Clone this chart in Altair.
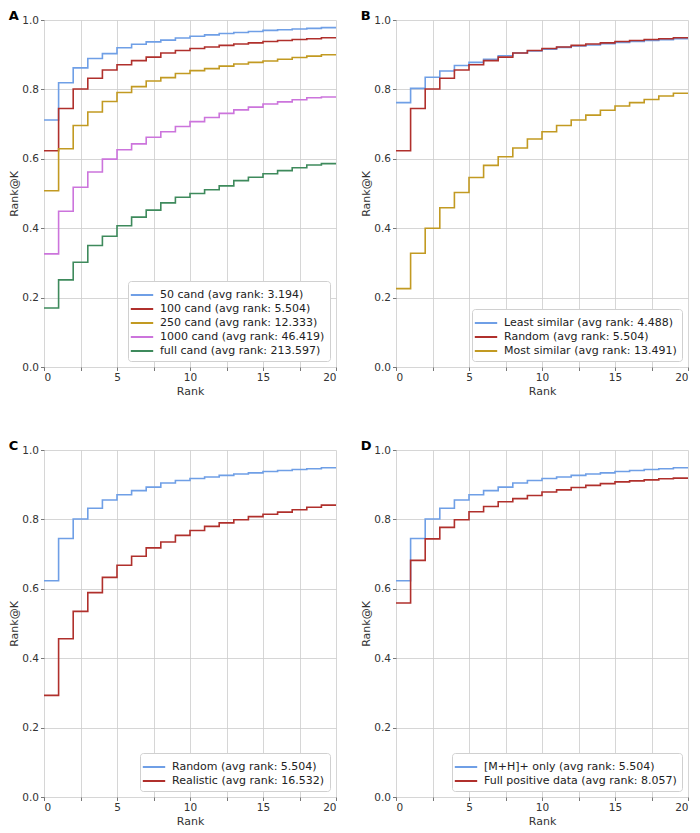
import altair as alt
import pandas as pd

# Rank positions (step starts); the last value is carried to rank 20
rank_edges = list(range(0, 21))

# Panel A
a_names = ["50 cand (avg rank: 3.194)", "100 cand (avg rank: 5.504)", "250 cand (avg rank: 12.333)",
           "1000 cand (avg rank: 46.419)", "full cand (avg rank: 213.597)"]
cand50 = [0.712, 0.819, 0.862, 0.889, 0.903, 0.920, 0.930, 0.937, 0.942, 0.948,
          0.953, 0.957, 0.961, 0.964, 0.967, 0.970, 0.972, 0.974, 0.976, 0.978]
random_ = [0.623, 0.745, 0.801, 0.832, 0.856, 0.871, 0.883, 0.893, 0.905, 0.912,
           0.918, 0.922, 0.927, 0.931, 0.934, 0.938, 0.941, 0.944, 0.946, 0.949]
cand250 = [0.508, 0.629, 0.696, 0.735, 0.765, 0.791, 0.808, 0.824, 0.834, 0.846,
           0.854, 0.860, 0.867, 0.873, 0.878, 0.882, 0.887, 0.892, 0.896, 0.900]
cand1000 = [0.326, 0.449, 0.518, 0.562, 0.599, 0.626, 0.643, 0.662, 0.678, 0.693,
            0.707, 0.719, 0.731, 0.741, 0.749, 0.758, 0.764, 0.770, 0.776, 0.778]
candfull = [0.170, 0.251, 0.302, 0.350, 0.377, 0.407, 0.432, 0.452, 0.473, 0.489,
            0.500, 0.511, 0.522, 0.537, 0.547, 0.557, 0.566, 0.574, 0.582, 0.586]

# Panel B
b_names = ["Least similar (avg rank: 4.488)", "Random (avg rank: 5.504)", "Most similar (avg rank: 13.491)"]
least_sim = [0.762, 0.803, 0.835, 0.853, 0.869, 0.878, 0.887, 0.897, 0.905, 0.911,
             0.916, 0.921, 0.925, 0.928, 0.932, 0.935, 0.938, 0.941, 0.943, 0.946]
most_sim = [0.226, 0.328, 0.400, 0.459, 0.503, 0.546, 0.581, 0.606, 0.631, 0.657,
            0.678, 0.696, 0.712, 0.726, 0.740, 0.752, 0.762, 0.771, 0.781, 0.789]

# Panel C
c_names = ["Random (avg rank: 5.504)", "Realistic (avg rank: 16.532)"]
realistic = [0.293, 0.456, 0.535, 0.589, 0.633, 0.668, 0.694, 0.718, 0.735, 0.754,
             0.768, 0.780, 0.790, 0.799, 0.808, 0.815, 0.821, 0.828, 0.835, 0.841]

# Panel D
d_names = ["[M+H]+ only (avg rank: 5.504)", "Full positive data (avg rank: 8.057)"]
full_pos = [0.559, 0.682, 0.744, 0.777, 0.799, 0.822, 0.837, 0.851, 0.860, 0.869,
            0.879, 0.885, 0.892, 0.898, 0.903, 0.908, 0.911, 0.914, 0.917, 0.919]

x_ticks = [0, 2.5, 5, 7.5, 10, 12.5, 15, 17.5, 20]
y_ticks = [0.0, 0.2, 0.4, 0.6, 0.8, 1.0]

BLUE = "#6f9fe6"
RED = "#b0302c"
GOLD = "#c29a22"
PURPLE = "#cc74dc"
GREEN = "#3e8a5c"

W, H = 292, 347


def panel(letter, names, series, colors):
    rows = []
    for order, (name, vals) in enumerate(zip(names, series)):
        ext = vals + [vals[-1]]
        for r, v in zip(rank_edges, ext):
            rows.append({"rank": r, "val": v, "series": name, "ord": order})
    df = pd.DataFrame(rows)
    return alt.Chart(df).mark_line(interpolate="step-after", strokeWidth=1.6).encode(
        x=alt.X("rank:Q", scale=alt.Scale(domain=[0, 20], nice=False),
                axis=alt.Axis(title="Rank", values=x_ticks,
                              labelExpr="datum.value % 5 == 0 ? format(datum.value, 'd') : ''")),
        y=alt.Y("val:Q", scale=alt.Scale(domain=[0, 1], nice=False),
                axis=alt.Axis(title="Rank@K", values=y_ticks, format=".1f")),
        color=alt.Color("series:N", sort=names,
                        scale=alt.Scale(domain=names, range=colors),
                        legend=alt.Legend(title=None, orient="bottom-right", offset=6,
                                          fillColor="white", strokeColor="#d0d0d0",
                                          cornerRadius=3, padding=5, rowPadding=0,
                                          symbolType="M-1.4,0H1.4", symbolStrokeWidth=2,
                                          symbolSize=256, labelOffset=9, labelFontSize=11,
                                          labelColor="#222", labelLimit=400)),
        order=alt.Order("ord:Q"),
    ).properties(width=W, height=H,
                 title=alt.TitleParams(letter, anchor="start", frame="bounds",
                                       fontSize=13, fontWeight="bold", offset=0, dy=8,
                                       color="#000"))


pA = panel("A", a_names, [cand50, random_, cand250, cand1000, candfull],
           [BLUE, RED, GOLD, PURPLE, GREEN])
pB = panel("B", b_names, [least_sim, random_, most_sim], [BLUE, RED, GOLD])
pC = panel("C", c_names, [random_, realistic], [BLUE, RED])
pD = panel("D", d_names, [random_, full_pos], [BLUE, RED])

chart = alt.vconcat(
    alt.hconcat(pA, pB, spacing=20).resolve_scale(color="independent"),
    alt.hconcat(pC, pD, spacing=20).resolve_scale(color="independent"),
    spacing=44,
).resolve_scale(color="independent").properties(
    padding={"left": 0, "top": 2, "right": 0, "bottom": 0}
).configure(
    font="DejaVu Sans"
).configure_axis(
    grid=True, gridColor="#cccccc", gridWidth=0.8, domain=False,
    tickColor="#555", tickSize=3.5, tickWidth=0.8,
    labelFontSize=10.5, labelColor="#333", labelPadding=2,
    titleFontSize=11, titleFontWeight="normal", titleColor="#333", titlePadding=2,
).configure_view(stroke=None)

chart.save("out.html", embed_options={"renderer": "svg", "actions": False})
